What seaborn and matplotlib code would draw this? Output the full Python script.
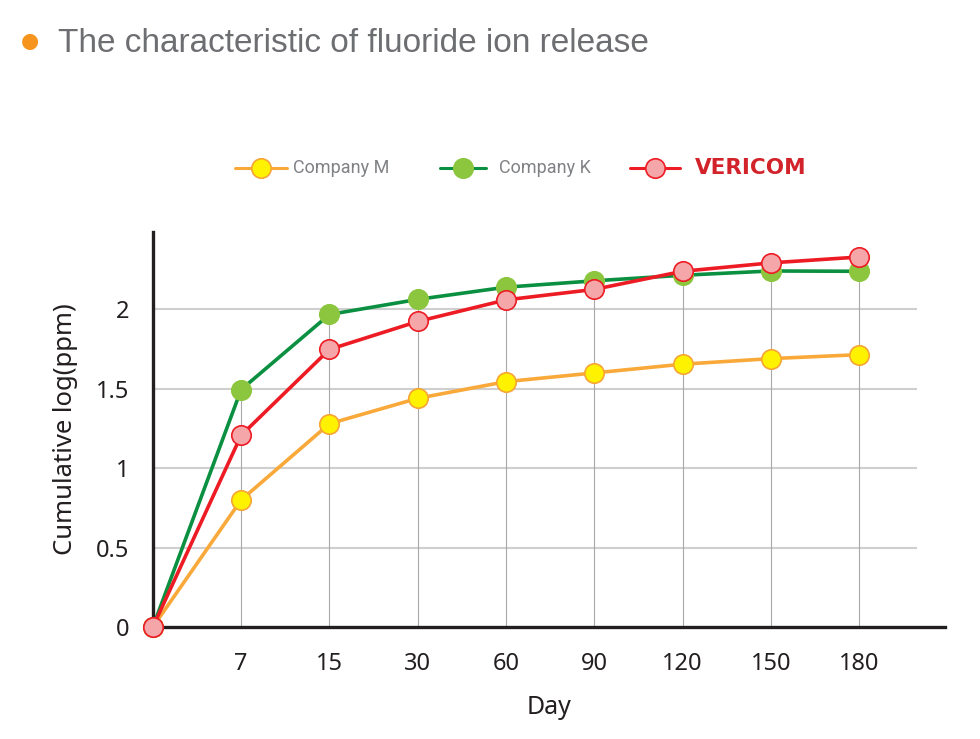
import matplotlib
matplotlib.use("Agg")
import matplotlib.pyplot as plt
import seaborn as sns
import numpy as np
import pandas as pd
from matplotlib.lines import Line2D

days = [0, 7, 15, 30, 60, 90, 120, 150, 180]
day_labels = ["", "7", "15", "30", "60", "90", "120", "150", "180"]
company_m = [0, 0.80, 1.28, 1.44, 1.545, 1.60, 1.655, 1.69, 1.715]
company_k = [0, 1.495, 1.968, 2.063, 2.14, 2.18, 2.215, 2.242, 2.24]
vericom = [0, 1.207, 1.748, 1.924, 2.06, 2.126, 2.24, 2.293, 2.33]
series_names = ["Company M", "Company K", "VERICOM"]
y_ticks = [0, 0.5, 1, 1.5, 2]
y_ticklabels = ["0", "0.5", "1", "1.5", "2"]

sns.set_style("white")
plt.rcParams['font.family'] = ['Noto Sans', 'DejaVu Sans']

fig = plt.figure(figsize=(9.8, 7.39), dpi=100)
ax = fig.add_axes([0.156, 0.1516, 0.808, 0.535])

pos = list(range(len(days)))
df = pd.DataFrame({"pos": pos * 3,
                   "value": company_m + company_k + vericom,
                   "series": sum([[n] * len(days) for n in series_names], [])})

# grid
ax.hlines(y_ticks[1:], 0, 8.66, color="#cfcfcf", lw=1.5, zorder=0)
maxv = np.maximum.reduce([company_m, company_k, vericom])
ax.vlines(pos[1:], 0, maxv[1:], color="#a8a8a8", lw=0.8, zorder=0)

styles = {
    "Company M": dict(color="#f9a93a", mfc="#fff200", mec="#f6a536"),
    "Company K": dict(color="#0a9040", mfc="#8cc63f", mec="#8cc63f"),
    "VERICOM": dict(color="#ed1c24", mfc="#f4a6a8", mec="#ed1c24"),
}
for i, name in enumerate(series_names):
    st = styles[name]
    sub = df[df.series == name]
    sns.lineplot(data=sub, x="pos", y="value", ax=ax, color=st["color"], lw=2.6,
                 marker="o", markersize=14, markerfacecolor=st["mfc"],
                 markeredgecolor=st["mec"], markeredgewidth=1.2, zorder=3 + i,
                 clip_on=False)

ax.set_xlim(0, 8.97)
ax.set_ylim(0, 2.49)
ax.set_xticks(pos)
ax.set_xticklabels(day_labels, fontsize=17, color="#231f20")
ax.set_yticks(y_ticks)
ax.set_yticklabels(y_ticklabels, fontsize=17, color="#231f20")
ax.tick_params(axis="x", length=0, pad=18)
ax.tick_params(axis="y", length=0, pad=17)
for s in ["top", "right"]:
    ax.spines[s].set_visible(False)
for s in ["left", "bottom"]:
    ax.spines[s].set_color("#231f20")
    ax.spines[s].set_linewidth(2.4)
ax.set_xlabel("Day", fontsize=18, color="#231f20", labelpad=14)
ax.set_ylabel("Cumulative log(ppm)", fontsize=18.5, color="#231f20", labelpad=13)

# title
fig.text(30 / 980, 1 - 42 / 739, "\u25cf", fontsize=15, color="#f7941d", ha="center", va="center")
fig.text(58 / 980, 1 - 43 / 739, "The characteristic of fluoride ion release",
         fontsize=24, color="#6d6e71", ha="left", va="center",
         family=["Liberation Sans", "DejaVu Sans"])

# legend
leg_y = 1 - 168 / 739
entries = [(235, 287, 261, 293), (440, 486, 463, 499), (630, 680, 655, 695)]
for (x0, x1, xm, xt), name in zip(entries, series_names):
    st = styles[name]
    fig.add_artist(Line2D([x0 / 980, x1 / 980], [leg_y, leg_y], color=st["color"], lw=2.2,
                          transform=fig.transFigure))
    fig.add_artist(Line2D([xm / 980], [leg_y], marker="o", markersize=14, color=st["color"],
                          markerfacecolor=st["mfc"], markeredgecolor=st["mec"],
                          markeredgewidth=1.2, transform=fig.transFigure))
    if name == "VERICOM":
        fig.text(xt / 980, leg_y, name, fontsize=15.5, color="#d2232a", fontweight="bold",
                 ha="left", va="center", family=["DejaVu Sans"])
    else:
        fig.text(xt / 980, leg_y, name, fontsize=13, color="#808285",
                 ha="left", va="center", family=["Roboto", "DejaVu Sans"])

fig.savefig("out.png", dpi=100)
